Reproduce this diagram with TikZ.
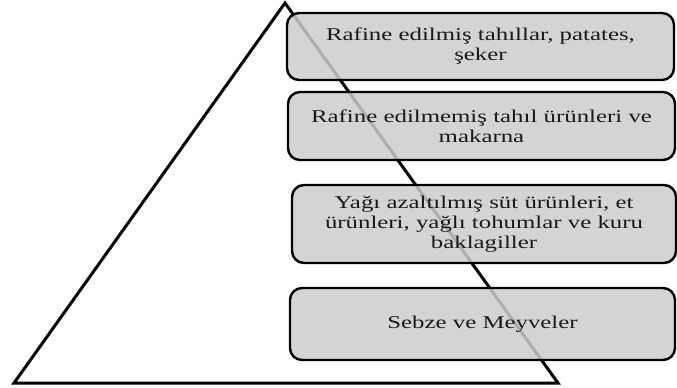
\documentclass[tikz,border=0pt]{standalone}
\usepackage{fontspec}
\usepackage{graphicx}
\setmainfont{Liberation Serif}
\newcommand{\wideln}[1]{\scalebox{1.38}[1]{#1}}
\begin{document}
\begin{tikzpicture}[x=1pt,y=-1pt,
  tier/.style={draw=black,line width=2.4pt,rounded corners=12pt,fill={rgb,1:red,0.8;green,0.8;blue,0.8},fill opacity=0.85,text opacity=1},
  tiertext/.style={align=center,font=\fontsize{18}{20}\selectfont,text=black!90}]
\useasboundingbox (0,0) rectangle (677,388);
\coordinate (apex) at (285,3);
\coordinate (bl) at (14,383);
\coordinate (br) at (558,383);
\draw[line width=3pt,line join=miter] (bl) -- (apex) -- (br) -- cycle;
\draw[tier] (287,13) rectangle (674,80);
\draw[tier] (288,92) rectangle (675,160);
\draw[tier] (292,185) rectangle (676,263);
\draw[tier] (290,288) rectangle (675,360);
\node[tiertext] (t1) at (480.5,46.5) {\wideln{Rafine edilmiş tahıllar, patates,}\\\wideln{şeker}};
\node[tiertext] (t2) at (481.5,126) {\wideln{Rafine edilmemiş tahıl ürünleri ve}\\\wideln{makarna}};
\node[tiertext] (t3) at (484,224) {\wideln{Yağı azaltılmış süt ürünleri, et}\\\wideln{ürünleri, yağlı tohumlar ve kuru}\\\wideln{baklagiller}};
\node[tiertext] (t4) at (482.5,324) {\wideln{Sebze ve Meyveler}};
\end{tikzpicture}
\end{document}
